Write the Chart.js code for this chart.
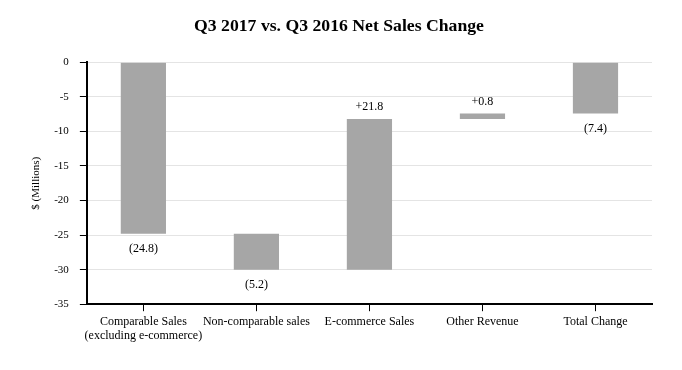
<!DOCTYPE html>
<html>
<head>
    <title>Q3 2017 vs. Q3 2016 Net Sales Change</title>
    <script src="https://cdn.jsdelivr.net/npm/chart.js"></script>
    <style>
        body {
            margin: 0;
            background-color: #fff;
        }
        #wrap {
            width: 682px;
            height: 370px;
        }
    </style>
</head>
<body>
    <div id="wrap"><canvas id="salesChart"></canvas></div>

    <script>
        // Waterfall data, $ millions
        var categories = [['Comparable Sales', '(excluding e-commerce)'], 'Non-comparable sales', 'E-commerce Sales', 'Other Revenue', 'Total Change'];
        var changes = [-24.8, -5.2, 21.8, 0.8, -7.4];
        var isTotal = [false, false, false, false, true];
        var valueLabels = ['(24.8)', '(5.2)', '+21.8', '+0.8', '(7.4)'];
        var yTicks = [0, -5, -10, -15, -20, -25, -30, -35];

        // build floating bars from the running total
        var ranges = [];
        var running = 0;
        for (var i = 0; i < changes.length; i++) {
            if (isTotal[i]) {
                ranges.push([0, changes[i]]);
            } else {
                ranges.push([running, running + changes[i]]);
                running = running + changes[i];
            }
        }

        var serif = "'Liberation Serif', 'Times New Roman', serif";

        // write the value next to each bar end
        var barLabels = {
            id: 'barLabels',
            afterDatasetsDraw: function(chart) {
                var ctx = chart.ctx;
                var meta = chart.getDatasetMeta(0);
                ctx.save();
                ctx.font = '12px ' + serif;
                ctx.fillStyle = '#000';
                ctx.textAlign = 'center';
                meta.data.forEach(function(bar, i) {
                    var r = ranges[i];
                    var lo = Math.min(r[0], r[1]);
                    var hi = Math.max(r[0], r[1]);
                    if (changes[i] < 0) {
                        ctx.textBaseline = 'top';
                        ctx.fillText(valueLabels[i], bar.x, chart.scales.y.getPixelForValue(lo) + 9);
                    } else {
                        ctx.textBaseline = 'bottom';
                        ctx.fillText(valueLabels[i], bar.x, chart.scales.y.getPixelForValue(hi) - 6);
                    }
                });
                ctx.restore();
            }
        };

        var ctx = document.getElementById('salesChart').getContext('2d');
        var salesChart = new Chart(ctx, {
            type: 'bar',
            data: {
                labels: categories,
                datasets: [{
                    data: ranges,
                    backgroundColor: '#a6a6a6',
                    borderWidth: 0,
                    barPercentage: 0.4,
                    categoryPercentage: 1.0
                }]
            },
            options: {
                responsive: true,
                maintainAspectRatio: false,
                animation: false,
                layout: {
                    padding: { left: 26, right: 30, top: 0, bottom: 24 }
                },
                plugins: {
                    legend: { display: false },
                    tooltip: { enabled: false },
                    title: {
                        display: true,
                        text: 'Q3 2017 vs. Q3 2016 Net Sales Change',
                        color: '#000',
                        font: { family: serif, size: 17.7, weight: 'bold' },
                        padding: { top: 16, bottom: 25 }
                    }
                },
                scales: {
                    x: {
                        grid: {
                            drawOnChartArea: false,
                            offset: false,
                            tickLength: 7,
                            tickColor: '#000'
                        },
                        border: { color: '#000', width: 2 },
                        ticks: {
                            color: '#000',
                            padding: 3,
                            maxRotation: 0,
                            autoSkip: false,
                            font: { family: serif, size: 12 }
                        }
                    },
                    y: {
                        min: -35,
                        max: 0,
                        afterBuildTicks: function(axis) {
                            axis.ticks = yTicks.map(function(v) { return { value: v }; });
                        },
                        grid: {
                            color: '#e4e4e4',
                            tickLength: 7,
                            tickColor: '#000'
                        },
                        border: { color: '#000', width: 2 },
                        ticks: {
                            color: '#000',
                            padding: 11,
                            font: { family: serif, size: 11 }
                        },
                        title: {
                            display: true,
                            text: '$ (Millions)',
                            color: '#000',
                            padding: { top: 4, bottom: 0 },
                            font: { family: serif, size: 11 }
                        }
                    }
                }
            },
            plugins: [barLabels]
        });
    </script>
</body>
</html>
